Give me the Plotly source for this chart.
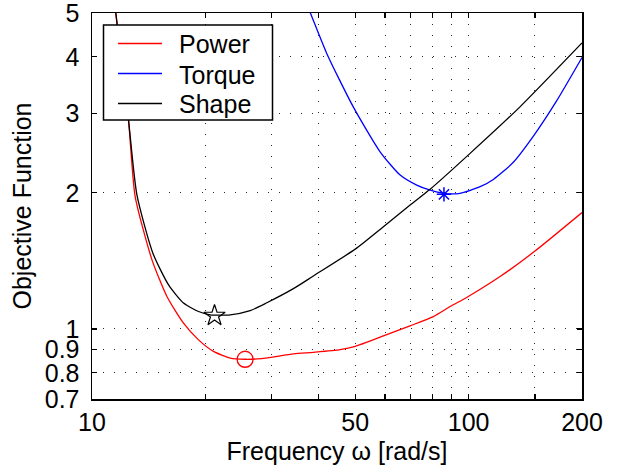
import plotly.graph_objects as go

# Frequency [rad/s] and objective values
power_x = [11.5, 12.5, 13.02, 14.43, 15.81, 17.5, 19.18, 21.02, 23.28, 25.5, 28.2, 34.3, 38.7, 45.6, 50.0, 59.4, 69.9, 80.6, 89.3, 99.8, 121.2, 149.4, 200.0]
power_y = [5.2, 2.897, 1.962, 1.422, 1.180, 1.030, 0.946, 0.892, 0.862, 0.857, 0.860, 0.881, 0.888, 0.900, 0.915, 0.965, 1.016, 1.065, 1.121, 1.180, 1.306, 1.483, 1.809]

torque_x = [36.8, 38.0, 42.0, 49.4, 58.2, 65.8, 72.8, 78.7, 85.7, 94.9, 107.3, 116.3, 131.2, 148.6, 171.4, 200.0]
torque_y = [5.33, 5.0, 4.07, 3.10, 2.466, 2.19, 2.081, 2.03, 1.996, 1.996, 2.064, 2.142, 2.334, 2.671, 3.199, 3.985]

shape_x = [11.5, 12.5, 13.16, 14.51, 15.97, 17.5, 19.18, 20.6, 23.28, 26.3, 29.13, 34.26, 38.7, 50.0, 59.39, 69.93, 79.0, 100.9, 136.9, 200.0]
shape_y = [5.2, 2.897, 1.979, 1.471, 1.252, 1.141, 1.093, 1.075, 1.075, 1.098, 1.143, 1.228, 1.31, 1.502, 1.684, 1.880, 2.037, 2.446, 3.100, 4.293]

series_names = ["Power", "Torque", "Shape"]
series_colors = ["#ff0000", "#0000ff", "#000000"]

# optimum markers
power_opt = (25.5, 0.857)
torque_opt = (86.0, 1.985)
shape_opt = (21.15, 1.07)

x_tickvals = [10, 20, 30, 40, 50, 60, 70, 80, 90, 100, 150, 200]
x_ticktext = ["10", "", "", "", "50", "", "", "", "", "100", "", "200"]
y_tickvals = [0.7, 0.8, 0.9, 1, 2, 3, 4, 5]
y_ticktext = ["0.7", "0.8", "0.9", "1", "2", "3", "4", "5"]

FONT = "Liberation Sans, Arial, Helvetica, sans-serif"
LW = 1.3

fig = go.Figure()
for xs, ys, nm, col in zip([power_x, torque_x, shape_x], [power_y, torque_y, shape_y],
                           series_names, series_colors):
    fig.add_trace(go.Scatter(x=xs, y=ys, mode="lines", name=nm, showlegend=False,
                             line=dict(color=col, width=LW, shape="spline", smoothing=0.6)))

fig.add_trace(go.Scatter(x=[power_opt[0]], y=[power_opt[1]], mode="markers", showlegend=False,
                         marker=dict(symbol="circle-open", size=16, color="#ff0000", line=dict(width=1.3))))
fig.add_trace(go.Scatter(x=[torque_opt[0]], y=[torque_opt[1]], mode="markers", showlegend=False,
                         marker=dict(symbol="asterisk-open", size=12, color="#0000ff", line=dict(width=1.5, color="#0000ff"))))
fig.add_trace(go.Scatter(x=[shape_opt[0]], y=[shape_opt[1]], mode="markers", showlegend=False,
                         marker=dict(symbol="star-open", size=16, color="#000000", line=dict(width=1.2))))

grid_common = dict(showgrid=True, gridcolor="rgba(0,0,0,0.85)", gridwidth=1, griddash="1px,10px",
                   showline=True, linecolor="black", linewidth=1.5, mirror="ticks",
                   ticks="inside", ticklen=5, tickcolor="black", tickwidth=1.2,
                   zeroline=False, automargin=False, ticklabeloverflow="allow",
                   tickfont=dict(family=FONT, size=25, color="black"))

fig.update_xaxes(type="log", range=[1, 2.30103], tickmode="array", tickvals=x_tickvals,
                 ticktext=x_ticktext, ticklabelstandoff=0,
                 title=dict(text="Frequency ω [rad/s]", font=dict(family=FONT, size=25, color="black"), standoff=8),
                 **grid_common)
fig.update_yaxes(type="log", range=[-0.154903, 0.698975], tickmode="array", tickvals=y_tickvals,
                 ticktext=y_ticktext, ticklabelstandoff=6,
                 title=dict(text="Objective Function", font=dict(family=FONT, size=25, color="black"), standoff=6),
                 **grid_common)

# legend box drawn in plot-area (paper) coordinates, MATLAB style
PL, PR, PT, PB = 92, 582, 13, 399
def px(xp):
    return (xp - PL) / (PR - PL)
def py(yp):
    return (PB - yp) / (PB - PT)

shapes = [dict(type="rect", xref="paper", yref="paper", x0=px(103.5), x1=px(272.5), y0=py(120), y1=py(25),
               fillcolor="white", line=dict(color="black", width=1.5), layer="above")]
annotations = []
for i, (nm, col) in enumerate(zip(series_names, series_colors)):
    yy = 43.5 + 30 * i
    shapes.append(dict(type="line", xref="paper", yref="paper", x0=px(118), x1=px(162), y0=py(yy), y1=py(yy),
                       line=dict(color=col, width=LW), layer="above"))
    annotations.append(dict(text=nm, xref="paper", yref="paper", x=px(177), y=py(yy + 1), xanchor="left",
                            yanchor="middle", showarrow=False,
                            font=dict(family=FONT, size=25, color="black")))

fig.update_layout(
    template="none",
    width=620, height=472,
    margin=dict(l=PL, r=620 - PR, t=PT, b=472 - PB, autoexpand=False),
    paper_bgcolor="white", plot_bgcolor="white",
    font=dict(family=FONT, size=25, color="black"),
    showlegend=False,
    shapes=shapes,
    annotations=annotations,
)

fig.write_html("out.html", config={"displayModeBar": False, "staticPlot": True},
               post_script="document.body.style.margin='0';document.body.style.overflow='hidden';")
